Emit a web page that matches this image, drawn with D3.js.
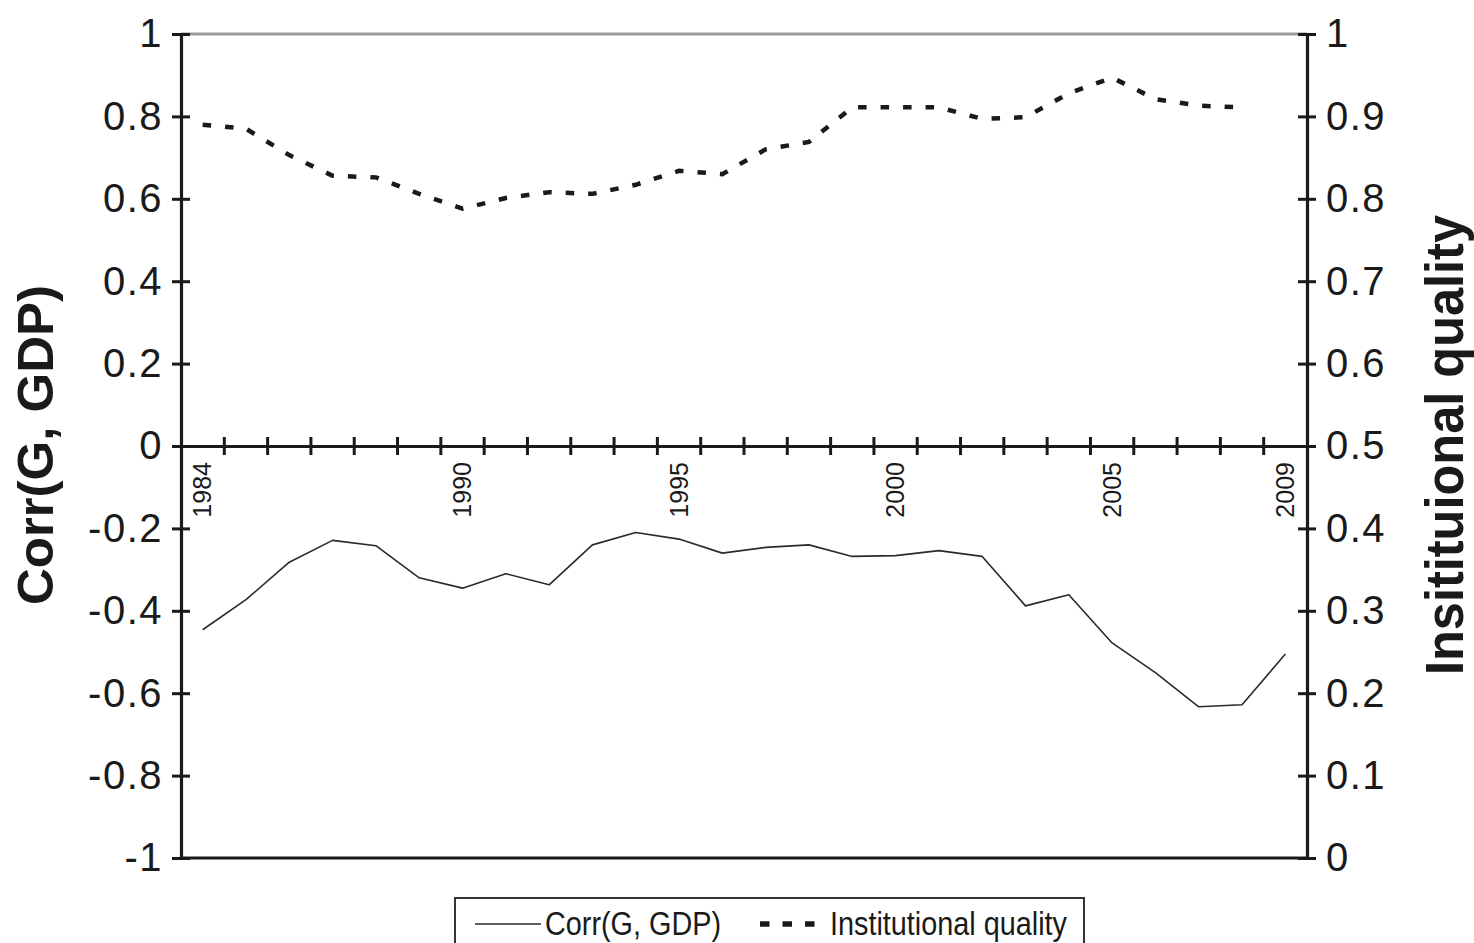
<!DOCTYPE html>
<html>
<head>
<meta charset="utf-8">
<script src="https://cdn.jsdelivr.net/npm/d3@7/dist/d3.min.js"></script>
<style>
  html, body { margin: 0; padding: 0; background: #fff; }
  svg { display: block; }
  text { font-family: "Liberation Sans", Arial, Helvetica, sans-serif; fill: #1a1a1a; }
</style>
</head>
<body>
<svg id="chart" width="1474" height="943"></svg>
<script>
// Years on the horizontal axis
const years = d3.range(1984, 2010);
// Years that carry a printed label
const yearLabels = [1984, 1990, 1995, 2000, 2005, 2009];
// Correlation between government spending and GDP (left axis)
const corrValues = [-0.446, -0.373, -0.282, -0.229, -0.242, -0.320, -0.345, -0.310, -0.337,
  -0.240, -0.210, -0.226, -0.260, -0.246, -0.240, -0.268, -0.266, -0.254, -0.268,
  -0.388, -0.361, -0.478, -0.550, -0.633, -0.628, -0.505];
// Institutional quality index (right axis); no value for 2009
const instValues = [0.890, 0.885, 0.853, 0.828, 0.826, 0.806, 0.788, 0.801, 0.808,
  0.806, 0.817, 0.834, 0.830, 0.860, 0.869, 0.911, 0.911, 0.911, 0.897,
  0.899, 0.928, 0.947, 0.921, 0.913, 0.911, null];
// Axis ticks
const leftTicks = [1, 0.8, 0.6, 0.4, 0.2, 0, -0.2, -0.4, -0.6, -0.8, -1];
const leftTickLabels = ["1", "0.8", "0.6", "0.4", "0.2", "0", "-0.2", "-0.4", "-0.6", "-0.8", "-1"];
const rightTicks = [1, 0.9, 0.8, 0.7, 0.6, 0.5, 0.4, 0.3, 0.2, 0.1, 0];
const rightTickLabels = ["1", "0.9", "0.8", "0.7", "0.6", "0.5", "0.4", "0.3", "0.2", "0.1", "0"];
// Series names
const seriesNames = ["Corr(G, GDP)", "Institutional quality"];
const leftTitle = "Corr(G, GDP)";
const rightTitle = "Insitituional quality";

const svg = d3.select("#chart");
const plotLeft = 181, plotRight = 1307, plotTop = 34, plotBottom = 858;

const x = d3.scaleBand().domain(years).range([plotLeft, plotRight]).padding(0);
const yL = d3.scaleLinear().domain([-1, 1]).range([plotBottom, plotTop]);
const yR = d3.scaleLinear().domain([0, 1]).range([plotBottom, plotTop]);
const cx = yr => x(yr) + x.bandwidth() / 2;

// Top frame edge
svg.append("line")
  .attr("x1", plotLeft).attr("x2", plotRight).attr("y1", plotTop).attr("y2", plotTop)
  .attr("stroke", "#9a9a9a").attr("stroke-width", 3);
// Bottom frame edge
svg.append("line")
  .attr("x1", plotLeft).attr("x2", plotRight).attr("y1", plotBottom).attr("y2", plotBottom)
  .attr("stroke", "#1a1a1a").attr("stroke-width", 3);

// Left axis
const leftAxis = d3.axisLeft(yL)
  .tickValues(leftTicks)
  .tickSize(0).tickSizeOuter(0).tickPadding(18)
  .tickFormat((d, i) => leftTickLabels[i]);
const gL = svg.append("g").attr("transform", `translate(${plotLeft},0)`).call(leftAxis);
gL.select(".domain").attr("stroke", "#1a1a1a").attr("stroke-width", 3.2);
gL.selectAll(".tick line").attr("x1", -9).attr("x2", 9).attr("stroke", "#1a1a1a").attr("stroke-width", 3);
gL.selectAll(".tick text").attr("font-size", 40).attr("letter-spacing", 1.5)
  .style("font-family", '"Liberation Sans", Arial, sans-serif').attr("fill", "#1a1a1a");

// Right axis
const rightAxis = d3.axisRight(yR)
  .tickValues(rightTicks)
  .tickSize(0).tickSizeOuter(0).tickPadding(19)
  .tickFormat((d, i) => rightTickLabels[i]);
const gR = svg.append("g").attr("transform", `translate(${plotRight},0)`).call(rightAxis);
gR.select(".domain").attr("stroke", "#1a1a1a").attr("stroke-width", 3.2);
gR.selectAll(".tick line").attr("x1", -9).attr("x2", 9).attr("stroke", "#1a1a1a").attr("stroke-width", 3);
gR.selectAll(".tick text").attr("font-size", 40).attr("letter-spacing", 1.5)
  .style("font-family", '"Liberation Sans", Arial, sans-serif').attr("fill", "#1a1a1a");

// Horizontal axis along zero
const y0 = yL(0);
const xAxis = d3.axisBottom(x)
  .tickValues(yearLabels)
  .tickSize(0).tickSizeOuter(0).tickPadding(0);
const gX = svg.append("g").attr("transform", `translate(0,${y0})`).call(xAxis);
gX.select(".domain").attr("stroke", "#1a1a1a").attr("stroke-width", 3.2);
gX.selectAll(".tick text")
  .attr("font-size", 25)
  .style("font-family", '"Liberation Sans", Arial, sans-serif')
  .attr("fill", "#1a1a1a")
  .attr("text-anchor", "end")
  .attr("transform", "rotate(-90)")
  .attr("x", -16).attr("y", 0).attr("dy", "0.35em");
// Category boundary ticks crossing the axis
svg.append("g").selectAll("line")
  .data(years.slice(1))
  .join("line")
  .attr("x1", d => x(d)).attr("x2", d => x(d))
  .attr("y1", y0 - 9).attr("y2", y0 + 9)
  .attr("stroke", "#1a1a1a").attr("stroke-width", 3);

// Series
const corrData = years.map((yr, i) => ({ yr, v: corrValues[i] }));
const instData = years.map((yr, i) => ({ yr, v: instValues[i] }));

svg.append("path")
  .datum(corrData)
  .attr("fill", "none")
  .attr("stroke", "#2a2a2a")
  .attr("stroke-width", 1.6)
  .attr("stroke-linejoin", "round")
  .attr("d", d3.line().x(d => cx(d.yr)).y(d => yL(d.v)));

svg.append("path")
  .datum(instData)
  .attr("fill", "none")
  .attr("stroke", "#1a1a1a")
  .attr("stroke-width", 4.5)
  .attr("stroke-dasharray", "8.5,14")
  .attr("d", d3.line().defined(d => d.v != null).x(d => cx(d.yr)).y(d => yR(d.v)));

// Axis titles
svg.append("text")
  .attr("transform", "translate(53,445) rotate(-90)")
  .attr("text-anchor", "middle")
  .attr("font-size", 50).attr("font-weight", "bold")
  .attr("textLength", 320).attr("lengthAdjust", "spacingAndGlyphs")
  .text(leftTitle);
svg.append("text")
  .attr("transform", "translate(1463,445) rotate(-90)")
  .attr("text-anchor", "middle")
  .attr("font-size", 54).attr("font-weight", "bold")
  .attr("textLength", 460).attr("lengthAdjust", "spacingAndGlyphs")
  .text(rightTitle);

// Legend
const lg = svg.append("g");
lg.append("rect")
  .attr("x", 455).attr("y", 898).attr("width", 629).attr("height", 70)
  .attr("fill", "#fff").attr("stroke", "#333").attr("stroke-width", 2);
lg.append("line")
  .attr("x1", 475).attr("x2", 541).attr("y1", 924).attr("y2", 924)
  .attr("stroke", "#2a2a2a").attr("stroke-width", 1.6);
lg.append("text")
  .attr("x", 545).attr("y", 935)
  .attr("font-size", 34)
  .style("font-family", '"Liberation Sans Narrow", "Arial Narrow", "Liberation Sans", sans-serif')
  .attr("textLength", 176).attr("lengthAdjust", "spacingAndGlyphs")
  .text(seriesNames[0]);
lg.append("line")
  .attr("x1", 760).attr("x2", 815).attr("y1", 924).attr("y2", 924)
  .attr("stroke", "#1a1a1a").attr("stroke-width", 5.5)
  .attr("stroke-dasharray", "9.5,13");
lg.append("text")
  .attr("x", 830).attr("y", 935)
  .attr("font-size", 34)
  .style("font-family", '"Liberation Sans Narrow", "Arial Narrow", "Liberation Sans", sans-serif')
  .attr("textLength", 237).attr("lengthAdjust", "spacingAndGlyphs")
  .text(seriesNames[1]);
</script>
</body>
</html>
